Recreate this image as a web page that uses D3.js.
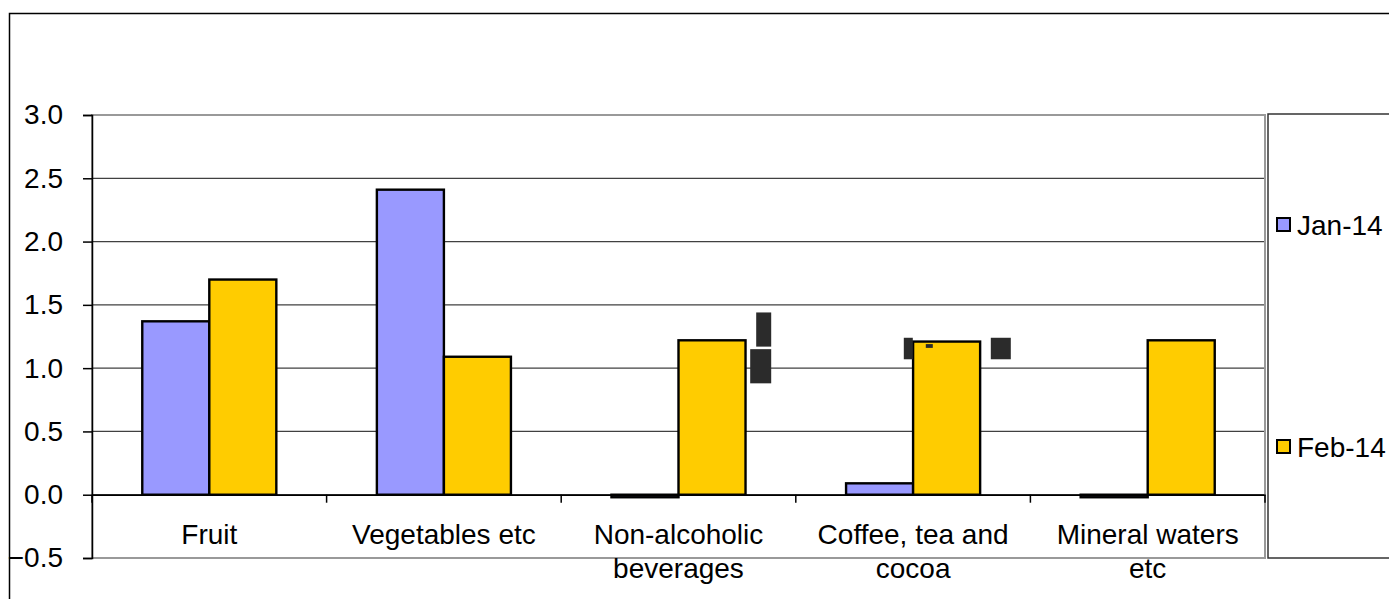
<!DOCTYPE html>
<html>
<head>
  <meta charset="UTF-8">
  <title>Chart</title>
  <style>
    body { margin: 0; background: #fff; }
    svg text { font-family: "Liberation Sans", Arial, sans-serif; fill: #000; }
  </style>
</head>
<body>
  <script src="https://cdn.jsdelivr.net/npm/d3@7"></script>
  <script>
    const categories = ['Fruit', 'Vegetables etc', 'Non-alcoholic beverages', 'Coffee, tea and cocoa', 'Mineral waters etc']
    const categoryLines = [['Fruit'], ['Vegetables etc'], ['Non-alcoholic', 'beverages'], ['Coffee, tea and', 'cocoa'], ['Mineral waters', 'etc']]
    const seriesNames = ['Jan-14', 'Feb-14']
    const jan14 = [1.37, 2.41, -0.02, 0.09, -0.02]
    const feb14 = [1.70, 1.09, 1.22, 1.21, 1.22]
    const yTicks = [-0.5, 0.0, 0.5, 1.0, 1.5, 2.0, 2.5, 3.0]
    const colors = ['#9999ff', '#ffcc00']

    // stray dark blocks in the original image (category, px offset from band start, value range)
    const strays = [
      { cat: 2, x0: 195, x1: 210, v0: 1.17, v1: 1.44 },
      { cat: 2, x0: 189, x1: 210, v0: 0.88, v1: 1.15 },
      { cat: 3, x0: 108, x1: 117, v0: 1.07, v1: 1.24 },
      { cat: 3, x0: 130, x1: 137, v0: 1.16, v1: 1.19 },
      { cat: 3, x0: 195, x1: 215, v0: 1.07, v1: 1.24 }
    ]

    const width = 1389,
      height = 599
    const plot = { left: 92, right: 1265, top: 115, bottom: 558 }
    const fontSize = '28px'

    const svg = d3.select('body')
      .append('svg')
      .attr('width', width)
      .attr('height', height)

    // outer frame
    svg.append('rect')
      .attr('x', 9.5).attr('y', 13.5)
      .attr('width', 1500).attr('height', 800)
      .attr('fill', 'none').attr('stroke', '#000').attr('stroke-width', 1.5)

    const xScale = d3.scaleBand()
      .domain(categories)
      .range([plot.left, plot.right])

    const xInner = d3.scaleBand()
      .domain(seriesNames)
      .range([0, xScale.bandwidth()])
      .paddingOuter(0.75)
      .paddingInner(0)

    const yScale = d3.scaleLinear()
      .domain([-0.5, 3.0])
      .range([plot.bottom, plot.top])

    // gridlines
    svg.append('g')
      .selectAll('line')
      .data(yTicks.filter(d => d > -0.5 && d < 3.0))
      .enter().append('line')
      .attr('x1', plot.left).attr('x2', plot.right)
      .attr('y1', d => yScale(d)).attr('y2', d => yScale(d))
      .attr('stroke', '#404040').attr('stroke-width', 1.3)

    // plot area border (gray)
    svg.append('rect')
      .attr('x', plot.left).attr('y', plot.top)
      .attr('width', plot.right - plot.left).attr('height', plot.bottom - plot.top)
      .attr('fill', 'none').attr('stroke', '#999').attr('stroke-width', 2)

    // bars
    const rows = categories.map((c, i) => ({ cat: c, values: [jan14[i], feb14[i]] }))
    const groups = svg.append('g')
      .selectAll('g')
      .data(rows)
      .enter().append('g')
      .attr('transform', d => `translate(${xScale(d.cat)},0)`)

    groups.selectAll('rect')
      .data(d => d.values.map((v, k) => ({ name: seriesNames[k], v: v, k: k })))
      .enter().append('rect')
      .attr('x', d => xInner(d.name))
      .attr('width', xInner.bandwidth())
      .attr('y', d => yScale(Math.max(0, d.v)))
      .attr('height', d => Math.max(1, Math.abs(yScale(d.v) - yScale(0))))
      .attr('fill', d => colors[d.k])
      .attr('stroke', '#000').attr('stroke-width', 2.4)

    // stray blocks
    svg.append('g')
      .selectAll('rect')
      .data(strays)
      .enter().append('rect')
      .attr('x', d => xScale(categories[d.cat]) + d.x0)
      .attr('width', d => d.x1 - d.x0)
      .attr('y', d => yScale(d.v1))
      .attr('height', d => yScale(d.v0) - yScale(d.v1))
      .attr('fill', '#2b2b2b')

    // y axis
    const yAxis = d3.axisLeft(yScale)
      .tickValues(yTicks)
      .tickFormat(d3.format('.1f'))
      .tickSize(9)
      .tickPadding(20)
    const yg = svg.append('g')
      .attr('transform', `translate(${plot.left},0)`)
      .call(yAxis)
    yg.select('.domain').attr('stroke', '#000').attr('stroke-width', 1.5)
    yg.selectAll('.tick line').attr('stroke', '#000').attr('stroke-width', 1.5)
    yg.selectAll('.tick text')
      .style('font-family', '"Liberation Sans", Arial, sans-serif')
      .style('font-size', fontSize)
      .attr('fill', '#000')

    // x axis at zero
    const xAxis = d3.axisBottom(xScale)
      .tickValues([])
      .tickSizeOuter(0)
    svg.append('g')
      .attr('transform', `translate(0,${yScale(0)})`)
      .call(xAxis)
      .select('.domain').attr('stroke', '#000').attr('stroke-width', 1.5)

    const bounds = categories.map(c => xScale(c)).concat([plot.right])
    svg.append('g')
      .selectAll('line')
      .data(bounds)
      .enter().append('line')
      .attr('x1', d => d).attr('x2', d => d)
      .attr('y1', yScale(0)).attr('y2', yScale(0) + 8)
      .attr('stroke', '#000').attr('stroke-width', 1.5)

    // category labels
    const labels = svg.append('g')
      .selectAll('text')
      .data(categories)
      .enter().append('text')
      .attr('x', d => xScale(d) + xScale.bandwidth() / 2)
      .attr('y', 544)
      .attr('text-anchor', 'middle')
      .style('font-size', fontSize)
    labels.each(function (d, i) {
      d3.select(this).selectAll('tspan')
        .data(categoryLines[i])
        .enter().append('tspan')
        .attr('x', xScale(d) + xScale.bandwidth() / 2)
        .attr('dy', (t, j) => j === 0 ? 0 : 34)
        .text(t => t)
    })

    // legend
    const legend = svg.append('g')
    legend.append('rect')
      .attr('x', 1268).attr('y', 114)
      .attr('width', 125).attr('height', 444)
      .attr('fill', '#fff').attr('stroke', '#333').attr('stroke-width', 1.5)

    const legendY = d3.scalePoint()
      .domain(seriesNames)
      .range([225, 447])

    const items = legend.selectAll('g.item')
      .data(seriesNames)
      .enter().append('g')
      .attr('class', 'item')
      .attr('transform', d => `translate(1277,${legendY(d)})`)
    items.append('rect')
      .attr('x', 0).attr('y', -7)
      .attr('width', 13).attr('height', 13)
      .attr('fill', (d, i) => colors[i])
      .attr('stroke', '#000').attr('stroke-width', 2)
    items.append('text')
      .attr('x', 20).attr('y', 0)
      .attr('dy', '0.36em')
      .style('font-size', fontSize)
      .text(d => d)
  </script>
</body>
</html>
